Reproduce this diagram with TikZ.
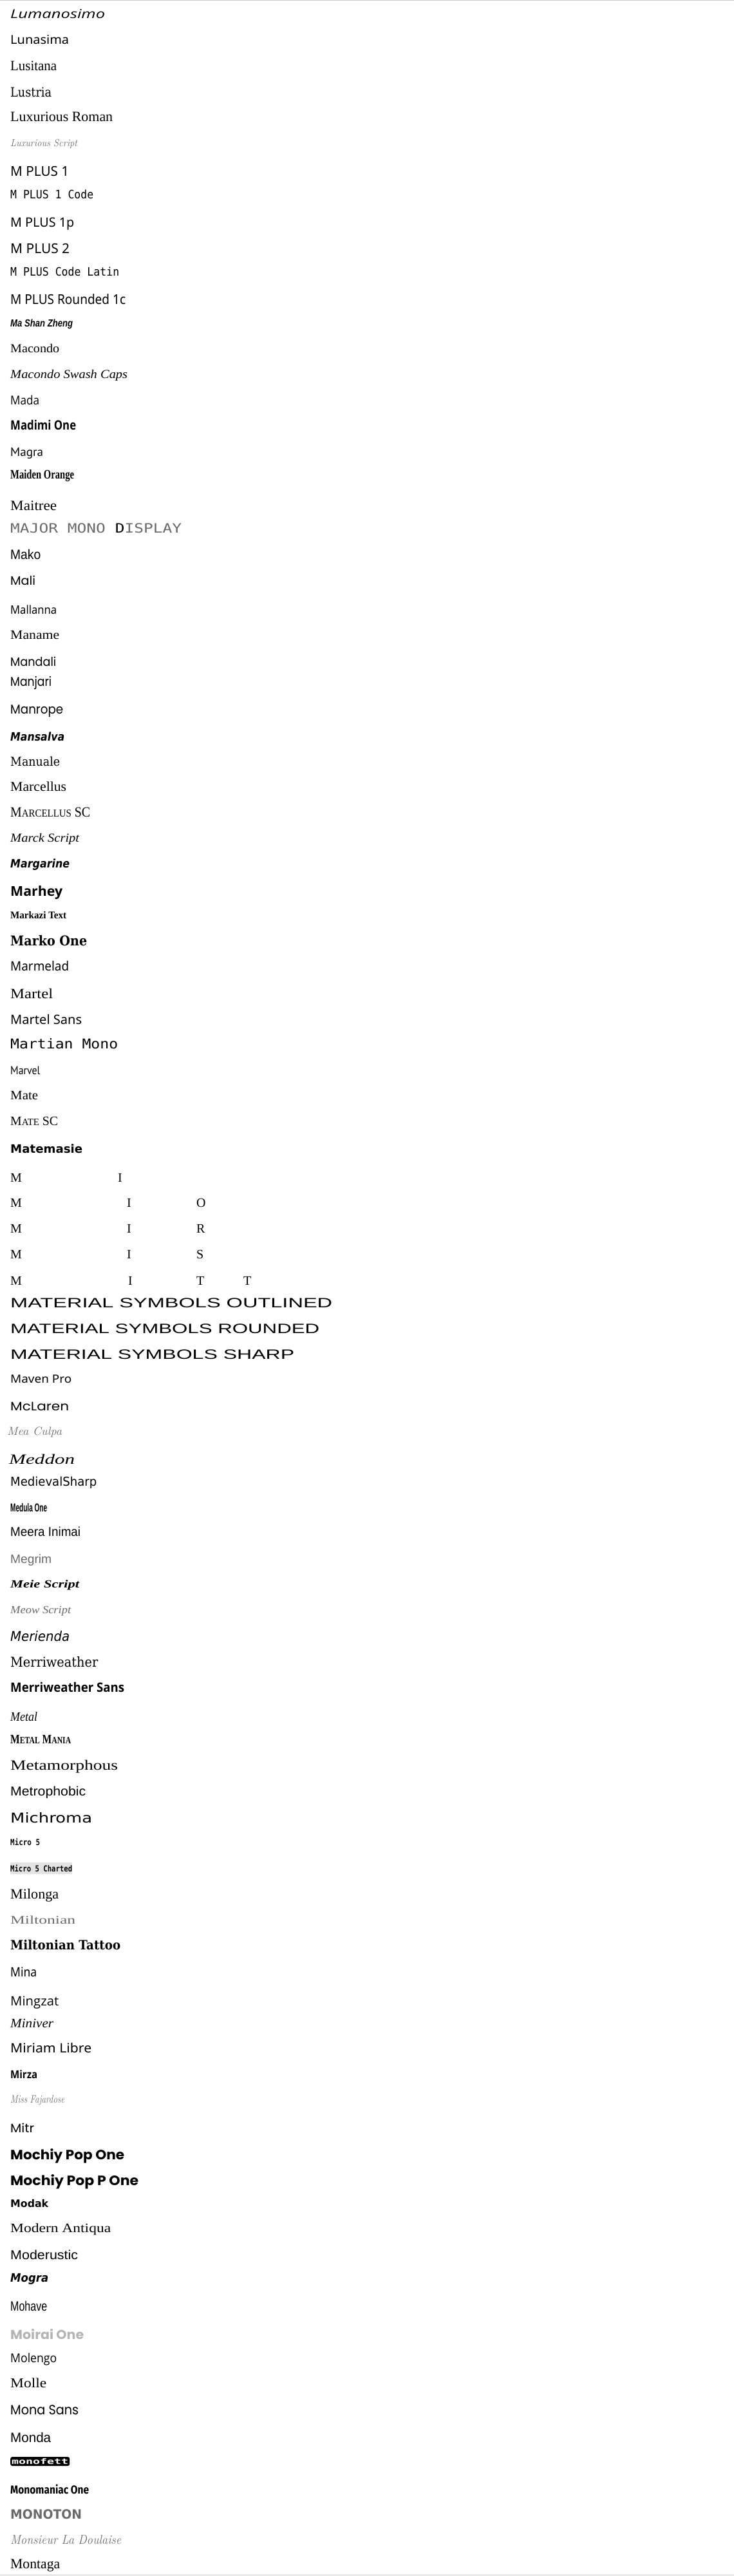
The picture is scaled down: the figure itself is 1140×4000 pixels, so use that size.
\documentclass[tikz,border=0pt]{standalone}
\usepackage{fontspec}
\usepackage{graphicx}
\newfontfamily\djsans{DejaVu Sans}
\newfontfamily\djserif{DejaVu Serif}
\newfontfamily\djmono{DejaVu Sans Mono}
\newfontfamily\lbsans{Liberation Sans}
\newfontfamily\lbserif{Liberation Serif}
\newfontfamily\lbmono{Liberation Mono}
\newfontfamily\ntsans{Noto Sans}
\newfontfamily\opsans{Open Sans}
\newfontfamily\frsans{Fira Sans}
\newfontfamily\ptsansf{PT Sans}
\newfontfamily\ppsans{Poppins}
\newcommand{\sz}[1]{\fontsize{#1}{#1}\selectfont}
\newcommand{\specimen}[2]{\resizebox{#1pt}{\height}{#2}}
\definecolor{rulegrey}{HTML}{C8C8C8}
\definecolor{thingrey}{HTML}{6A6A6A}
\definecolor{palegrey}{HTML}{B4B4B4}
\begin{document}
\begin{tikzpicture}[x=1pt, y=-1pt]
    \tikzstyle{fontline} = [anchor=base west, inner sep=0pt]
    \tikzstyle{faint} = [fontline, text=thingrey]
    \tikzstyle{pale} = [fontline, text=palegrey]
    \useasboundingbox (0, 0) rectangle (1140, 4000);
    \draw[rulegrey] (0, 0.5) -- (1140, 0.5);
    \draw[rulegrey] (0, 3998.5) -- (1140, 3998.5);
    \node[fontline, font=\opsans\itshape\sz{19}] (lumanosimo) at (16, 28) {\specimen{147}{Lumanosimo}};
    \node[fontline, font=\ntsans\sz{19}] (lunasima) at (16, 68) {\specimen{91}{Lunasima}};
    \node[fontline, font=\lbserif\sz{22}] (lusitana) at (16, 109) {\specimen{72}{Lusitana}};
    \node[fontline, font=\djserif\sz{20}] (lustria) at (16, 150) {\specimen{64}{Lustria}};
    \node[fontline, font=\lbserif\sz{22}] (luxroman) at (16, 188) {\specimen{159}{Luxurious Roman}};
    \node[faint, font=\rmfamily\itshape\sz{16}] (luxscript) at (16, 227) {\specimen{104}{Luxurious Script}};
    \node[fontline, font=\ntsans\sz{21}] (mplusone) at (16, 273) {\specimen{91}{M PLUS 1}};
    \node[fontline, font=\djmono\sz{18}] (mpluscode) at (16, 308) {\specimen{129}{M PLUS 1 Code}};
    \node[fontline, font=\ntsans\sz{20}] (mplusonep) at (16, 352) {\specimen{99}{M PLUS 1p}};
    \node[fontline, font=\ntsans\sz{21}] (mplustwo) at (16, 393) {\specimen{92}{M PLUS 2}};
    \node[fontline, font=\djmono\sz{18}] (mpluslatin) at (16, 428) {\specimen{169}{M PLUS Code Latin}};
    \node[fontline, font=\ntsans\sz{21}] (mplusround) at (16, 472) {\specimen{179}{M PLUS Rounded 1c}};
    \node[fontline, font=\lbsans\bfseries\itshape\sz{16}] (mashan) at (16, 507) {\specimen{97}{Ma Shan Zheng}};
    \node[fontline, font=\lbserif\sz{19}] (macondo) at (16, 547) {\specimen{76}{Macondo}};
    \node[fontline, font=\lbserif\itshape\sz{19}] (macondoswash) at (16, 587) {\specimen{182}{Macondo Swash Caps}};
    \node[fontline, font=\opsans\sz{19}] (mada) at (16, 628) {\specimen{45}{Mada}};
    \node[fontline, font=\opsans\bfseries\sz{20}] (madimi) at (16, 667) {\specimen{102}{Madimi One}};
    \node[fontline, font=\ptsansf\sz{19}] (magra) at (16, 708) {\specimen{51}{Magra}};
    \node[fontline, font=\lbserif\bfseries\sz{20}] (maiden) at (16, 743) {\specimen{99}{Maiden Orange}};
    \node[fontline, font=\lbserif\sz{22}] (maitree) at (16, 792) {\specimen{72}{Maitree}};
    \node[faint, font=\djmono\sz{20}] (majormono) at (16, 827) {\specimen{266}{MAJOR MONO {\color{black}D}ISPLAY}};
    \node[fontline, font=\lbsans\sz{21}] (mako) at (16, 868) {\specimen{47}{Mako}};
    \node[fontline, font=\ppsans\sz{19}] (mali) at (16, 908) {\specimen{39}{Mali}};
    \node[fontline, font=\ntsans\sz{18}] (mallanna) at (16, 953) {\specimen{72}{Mallanna}};
    \node[fontline, font=\lbserif\sz{20}] (maname) at (16, 992) {\specimen{76}{Maname}};
    \node[fontline, font=\ppsans\sz{19}] (mandali) at (16, 1034) {\specimen{71}{Mandali}};
    \node[fontline, font=\ppsans\sz{20}] (manjari) at (16, 1065) {\specimen{64}{Manjari}};
    \node[fontline, font=\ppsans\sz{20}] (manrope) at (16, 1108) {\specimen{82}{Manrope}};
    \node[fontline, font=\djsans\bfseries\itshape\sz{18}] (mansalva) at (16, 1150) {\specimen{84}{Mansalva}};
    \node[fontline, font=\djserif\sz{19}] (manuale) at (16, 1189) {\specimen{77}{Manuale}};
    \node[fontline, font=\lbserif\sz{21}] (marcellus) at (16, 1228) {\specimen{87}{Marcellus}};
    \node[fontline, font=\lbserif\sz{22}] (marcellussc) at (16, 1268) {\specimen{124}{M{\sz{16.5}ARCELLUS} SC}};
    \node[fontline, font=\lbserif\itshape\sz{19}] (marck) at (16, 1307) {\specimen{107}{Marck Script}};
    \node[fontline, font=\djsans\bfseries\itshape\sz{18}] (margarine) at (16, 1347) {\specimen{92}{Margarine}};
    \node[fontline, font=\opsans\bfseries\sz{21}] (marhey) at (16, 1391) {\specimen{81}{Marhey}};
    \node[fontline, font=\lbserif\bfseries\sz{16}] (markazi) at (16, 1426) {\specimen{87}{Markazi Text}};
    \node[fontline, font=\djserif\bfseries\sz{21}] (markoone) at (16, 1468) {\specimen{119}{Marko One}};
    \node[fontline, font=\ntsans\sz{20}] (marmelad) at (16, 1507) {\specimen{91}{Marmelad}};
    \node[fontline, font=\lbserif\sz{22}] (martel) at (16, 1550) {\specimen{66}{Martel}};
    \node[fontline, font=\ntsans\sz{20}] (martelsans) at (16, 1590) {\specimen{111}{Martel Sans}};
    \node[fontline, font=\djmono\sz{21}] (martian) at (16, 1628) {\specimen{167}{Martian Mono}};
    \node[fontline, font=\ptsansf\sz{18}] (marvel) at (16, 1668) {\specimen{46}{Marvel}};
    \node[fontline, font=\lbserif\sz{20}] (mate) at (16, 1707) {\specimen{43}{Mate}};
    \node[fontline, font=\lbserif\sz{20}] (matesc) at (16, 1747) {\specimen{74}{M{\sz{15}ATE} SC}};
    \node[fontline, font=\djsans\bfseries\sz{18}] (matemasie) at (16, 1790) {\specimen{112}{Matemasie}};
    \node[fontline, font=\lbserif\sz{20}] (micons) at (16, 1835) {\makebox[167pt][l]{M}I};
    \node[fontline, font=\lbserif\sz{20}] (miconsout) at (16, 1874) {\makebox[181pt][l]{M}\makebox[108pt][l]{I}O};
    \node[fontline, font=\lbserif\sz{20}] (miconsround) at (16, 1914) {\makebox[181pt][l]{M}\makebox[108pt][l]{I}R};
    \node[fontline, font=\lbserif\sz{20}] (miconssharp) at (16, 1954) {\makebox[181pt][l]{M}\makebox[108pt][l]{I}S};
    \node[fontline, font=\lbserif\sz{20}] (miconstwo) at (16, 1995) {\makebox[183pt][l]{M}\makebox[106pt][l]{I}\makebox[73pt][l]{T}T};
    \node[fontline, font=\lbsans\sz{21}] (msoutlined) at (16, 2030) {\specimen{500}{MATERIAL SYMBOLS OUTLINED}};
    \node[fontline, font=\lbsans\sz{21}] (msrounded) at (16, 2070) {\specimen{480}{MATERIAL SYMBOLS ROUNDED}};
    \node[fontline, font=\lbsans\sz{21}] (mssharp) at (16, 2110) {\specimen{441}{MATERIAL SYMBOLS SHARP}};
    \node[fontline, font=\ntsans\sz{17.5}] (maven) at (16, 2147) {\specimen{95}{Maven Pro}};
    \node[fontline, font=\ppsans\sz{19}] (mclaren) at (16, 2190) {\specimen{91}{McLaren}};
    \node[faint, font=\rmfamily\itshape\sz{18}] (meaculpa) at (11, 2228) {\specimen{85}{Mea Culpa}};
    \node[fontline, font=\lbserif\itshape\sz{22}] (meddon) at (14, 2273) {\specimen{102}{Meddon}};
    \node[fontline, font=\djsans\sz{19}] (medieval) at (16, 2307) {\specimen{134}{MedievalSharp}};
    \node[fontline, font=\lbsans\bfseries\sz{18}] (medula) at (16, 2347) {\specimen{57}{Medula One}};
    \node[fontline, font=\lbsans\sz{20}] (meera) at (16, 2385) {\specimen{109}{Meera Inimai}};
    \node[faint, font=\lbsans\sz{19}] (megrim) at (16, 2427) {\specimen{64}{Megrim}};
    \node[fontline, font=\lbserif\bfseries\itshape\sz{17}] (meie) at (16, 2465) {\specimen{107}{Meie Script}};
    \node[faint, font=\lbserif\itshape\sz{17}] (meow) at (16, 2505) {\specimen{94}{Meow Script}};
    \node[fontline, font=\djsans\itshape\sz{21}] (merienda) at (16, 2548) {\specimen{92}{Merienda}};
    \node[fontline, font=\djserif\sz{21}] (merri) at (16, 2588) {\specimen{136}{Merriweather}};
    \node[fontline, font=\opsans\bfseries\sz{20}] (merrisans) at (16, 2627) {\specimen{177}{Merriweather Sans}};
    \node[fontline, font=\lbserif\itshape\sz{20}] (metal) at (16, 2672) {\specimen{42}{Metal}};
    \node[fontline, font=\lbserif\bfseries\sz{20}] (metalmania) at (16, 2707) {\specimen{94}{M{\sz{15}ETAL} M{\sz{15}ANIA}}};
    \node[fontline, font=\lbserif\sz{22}] (metamorphous) at (16, 2748) {\specimen{167}{Metamorphous}};
    \node[fontline, font=\lbsans\sz{20}] (metrophobic) at (16, 2788) {\specimen{117}{Metrophobic}};
    \node[fontline, font=\djsans\sz{21}] (michroma) at (16, 2830) {\specimen{127}{Michroma}};
    \node[fontline, font=\djmono\bfseries\sz{13}] (microfive) at (16, 2865) {\specimen{46}{Micro 5}};
    \node[fontline, fill=gray!22, inner ysep=3.5pt, font=\djmono\bfseries\sz{13}] (microcharted) at (16, 2906) {\specimen{96}{Micro 5 Charted}};
    \node[fontline, font=\lbserif\sz{22}] (milonga) at (16, 2948) {\specimen{75}{Milonga}};
    \node[faint, font=\lbserif\sz{18}] (miltonian) at (16, 2987) {\specimen{101}{Miltonian}};
    \node[fontline, font=\djserif\bfseries\sz{20}] (miltoniantattoo) at (16, 3027) {\specimen{171}{Miltonian Tattoo}};
    \node[fontline, font=\ntsans\sz{20}] (mina) at (16, 3069) {\specimen{41}{Mina}};
    \node[fontline, font=\opsans\sz{20}] (mingzat) at (16, 3114) {\specimen{75}{Mingzat}};
    \node[fontline, font=\lbserif\itshape\sz{20}] (miniver) at (16, 3148) {\specimen{67}{Miniver}};
    \node[fontline, font=\ntsans\sz{20}] (miriam) at (16, 3187) {\specimen{126}{Miriam Libre}};
    \node[fontline, font=\opsans\bfseries\sz{17}] (mirza) at (16, 3227) {\specimen{42}{Mirza}};
    \node[faint, font=\rmfamily\itshape\sz{17}] (missfajardose) at (16, 3265) {\specimen{84}{Miss Fajardose}};
    \node[fontline, font=\ppsans\sz{19}] (mitr) at (16, 3311) {\specimen{37}{Mitr}};
    \node[fontline, font=\ppsans\bfseries\sz{21}] (mochiy) at (16, 3353) {\specimen{177}{Mochiy Pop One}};
    \node[fontline, font=\ppsans\bfseries\sz{21}] (mochiyp) at (16, 3393) {\specimen{199}{Mochiy Pop P One}};
    \node[fontline, font=\djsans\bfseries\sz{16}] (modak) at (16, 3427) {\specimen{59}{Modak}};
    \node[fontline, font=\lbserif\sz{20}] (modernantiqua) at (16, 3466) {\specimen{156}{Modern Antiqua}};
    \node[fontline, font=\lbsans\sz{20}] (moderustic) at (16, 3508) {\specimen{105}{Moderustic}};
    \node[fontline, font=\djsans\bfseries\itshape\sz{18}] (mogra) at (16, 3543) {\specimen{59}{Mogra}};
    \node[fontline, font=\lbsans\sz{21}] (mohave) at (16, 3588) {\specimen{57}{Mohave}};
    \node[pale, font=\ppsans\bfseries\sz{20}] (moirai) at (16, 3632) {\specimen{114}{Moirai One}};
    \node[fontline, font=\opsans\sz{19}] (molengo) at (16, 3668) {\specimen{72}{Molengo}};
    \node[fontline, font=\lbserif\sz{21}] (molle) at (16, 3707) {\specimen{56}{Molle}};
    \node[fontline, font=\ppsans\sz{21}] (monasans) at (16, 3749) {\specimen{106}{Mona Sans}};
    \node[fontline, font=\lbsans\sz{21}] (monda) at (16, 3792) {\specimen{63}{Monda}};
    \node[anchor=west, fill=black, text=white, rounded corners=3pt, inner xsep=2pt, inner ysep=0pt, minimum height=14pt, font=\djmono\bfseries\sz{12}] (monofett) at (16, 3822) {\specimen{88}{monofett}};
    \node[fontline, font=\frsans\bfseries\sz{18}] (monomaniac) at (16, 3872) {\specimen{122}{Monomaniac One}};
    \node[faint, font=\djsans\bfseries\sz{20}] (monoton) at (16, 3911) {\specimen{111}{MONOTON}};
    \node[faint, font=\rmfamily\itshape\sz{20}] (monsieur) at (16, 3950) {\specimen{172}{Monsieur La Doulaise}};
    \node[fontline, font=\lbserif\sz{22}] (montaga) at (16, 3988) {\specimen{77}{Montaga}};
\end{tikzpicture}
\end{document}
